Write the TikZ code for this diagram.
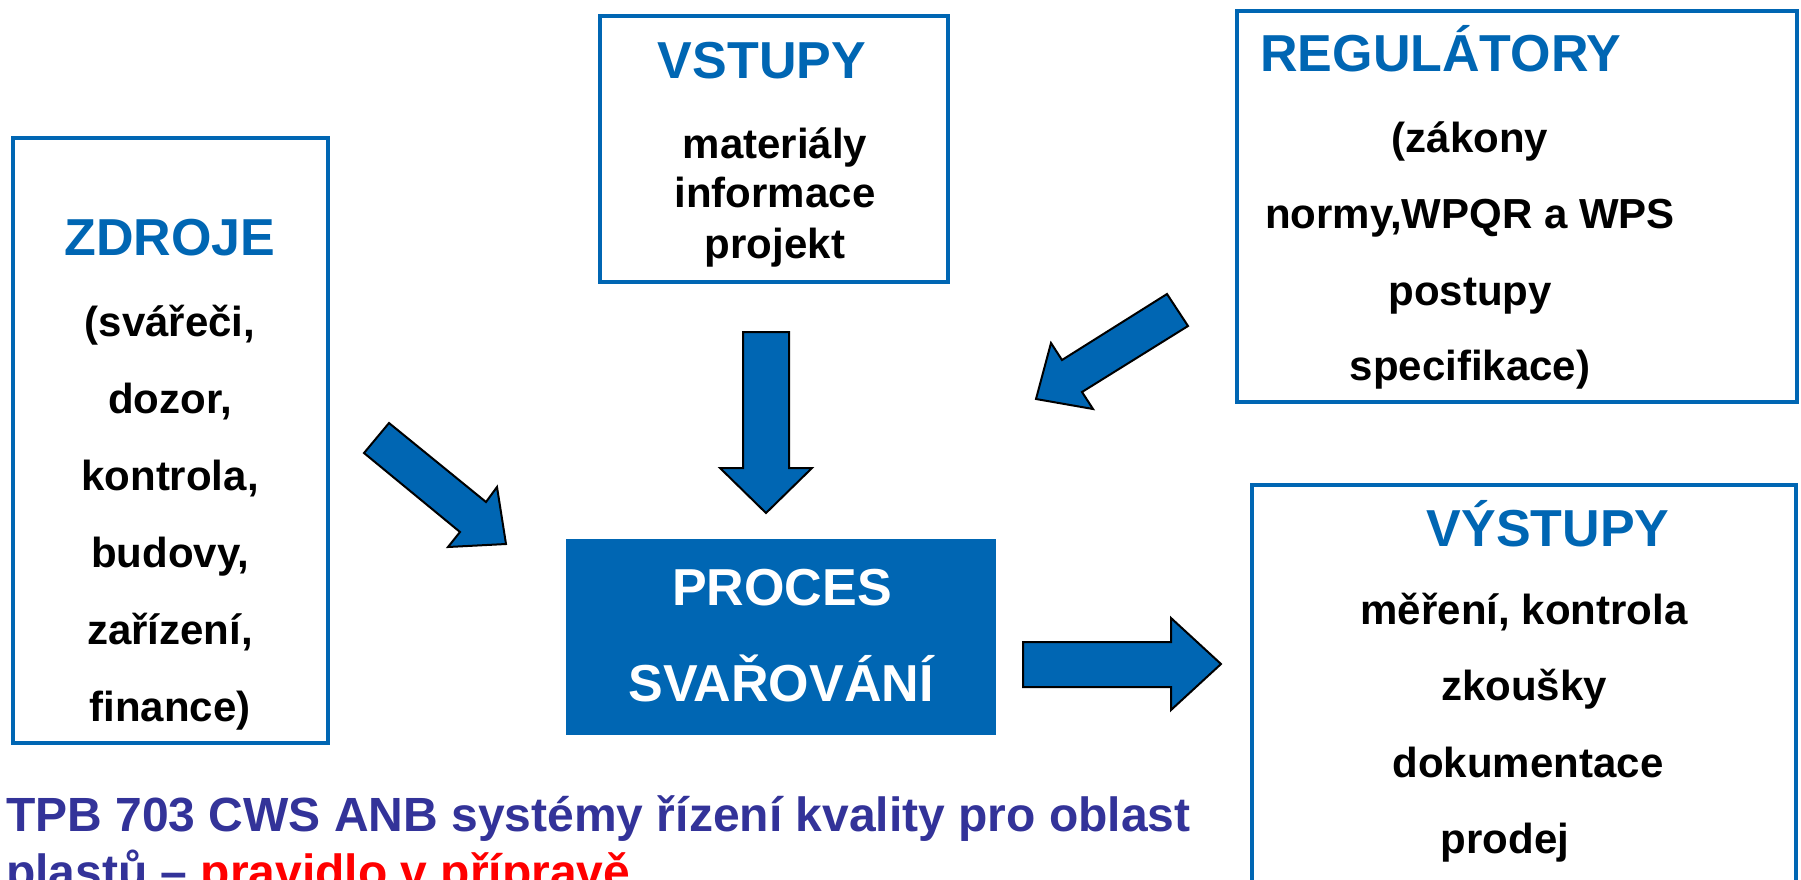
\documentclass[tikz,border=0pt]{standalone}
\usepackage{fontspec}
\setmainfont{Liberation Sans}
\definecolor{pblue}{RGB}{0,102,179}
\definecolor{navy}{RGB}{51,51,153}
\begin{document}
\begin{tikzpicture}[x=1pt,y=-1pt,
  box/.style={draw=pblue, line width=4pt, inner sep=0pt, fill=white},
  ttl/.style={anchor=base, text=pblue, inner sep=0pt, font=\fontsize{52}{52}\selectfont\bfseries},
  txt/.style={anchor=base, text=black, inner sep=0pt, font=\fontsize{42}{42}\selectfont\bfseries},
  wtxt/.style={anchor=base, text=white, inner sep=0pt, font=\fontsize{52}{52}\selectfont\bfseries},
  foot/.style={anchor=base west, text=navy, inner sep=0pt, font=\fontsize{48}{48}\selectfont\bfseries},
  blk/.style={fill=pblue, draw=black, line width=2pt, line join=miter}]
\useasboundingbox (0,0) rectangle (1801,879);
\clip (0,0) rectangle (1801,879);
\fill[white] (0,0) rectangle (1801,879);

% boxes
\node[box, minimum width=315pt, minimum height=605pt] (zdroje) at (170.5,440.5) {};
\node[box, minimum width=348pt, minimum height=266pt] (vstupy) at (774,149) {};
\node[box, minimum width=560pt, minimum height=391pt] (regul) at (1517,206.5) {};
\node[box, minimum width=544pt, minimum height=430pt] (vystupy) at (1524,700) {};
\node[fill=pblue, inner sep=0pt, minimum width=430pt, minimum height=196pt] (proces) at (781,637) {};

% ZDROJE texts
\node[ttl] (zT) at (170,255) {ZDROJE};
\node[txt] (z1) at (170,336) {(svářeči,};
\node[txt] (z2) at (170,413) {dozor,};
\node[txt] (z3) at (170,490) {kontrola,};
\node[txt] (z4) at (170,567) {budovy,};
\node[txt] (z5) at (170,644) {zařízení,};
\node[txt] (z6) at (170,721) {finance)};

% VSTUPY texts
\node[ttl] (vT) at (762,78) {VSTUPY};
\node[txt] (v1) at (775,158) {materiály};
\node[txt] (v2) at (775,207) {informace};
\node[txt] (v3) at (775,258) {projekt};

% REGULATORY texts
\node[ttl] (rT) at (1441,71) {REGULÁTORY};
\node[txt] (r1) at (1470,152) {(zákony};
\node[txt] (r2) at (1470,228) {normy,WPQR a WPS};
\node[txt] (r3) at (1470,305) {postupy};
\node[txt] (r4) at (1470,380) {specifikace)};

% VYSTUPY texts
\node[ttl] (oT) at (1548,546) {VÝSTUPY};
\node[txt] (o1) at (1524,624) {měření, kontrola};
\node[txt] (o2) at (1524,700) {zkoušky};
\node[txt] (o3) at (1528,777) {dokumentace};
\node[txt] (o4) at (1505,853) {prodej};

% PROCES texts
\node[wtxt] (p1) at (782,605) {PROCES};
\node[wtxt] (p2) at (781,701) {SVAŘOVÁNÍ};

% block arrows
\draw[blk] (743,332) -- (789,332) -- (789,468) -- (812,468) -- (766,513) -- (720,468) -- (743,468) -- cycle;
\draw[blk] (389,423) -- (486,502) -- (497,487) -- (506,544) -- (448,547) -- (460,532) -- (364,453) -- cycle;
\draw[blk] (1167,294) -- (1188,326) -- (1082,392) -- (1093,409) -- (1036,399) -- (1051,343) -- (1062,360) -- cycle;
\draw[blk] (1023,642) -- (1171,642) -- (1171,618) -- (1221,664) -- (1171,710) -- (1171,687) -- (1023,687) -- cycle;

% footer
\node[foot] (f1) at (6,831) {TPB 703 CWS ANB systémy řízení kvality pro oblast};
\node[foot] (f2) at (6,888) {plastů – \textcolor{red}{pravidlo v přípravě}};
\end{tikzpicture}
\end{document}
